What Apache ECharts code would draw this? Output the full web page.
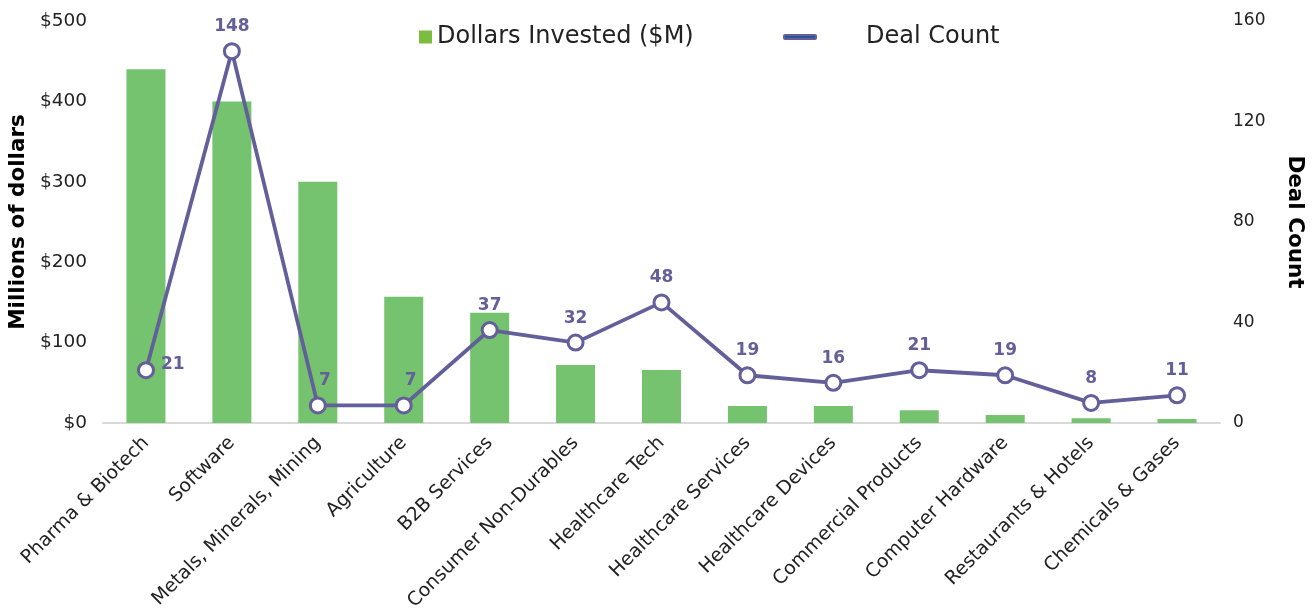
<!DOCTYPE html>
<html><head><meta charset="utf-8">
<script src="https://cdn.jsdelivr.net/npm/echarts@6/dist/echarts.min.js"></script>
<style>html,body{margin:0;padding:0;background:#fff}#c{width:1315px;height:611px}</style>
</head><body><div id="c"></div>
<script>
const categories = ['Pharma & Biotech','Software','Metals, Minerals, Mining','Agriculture','B2B Services','Consumer Non-Durables','Healthcare Tech','Healthcare Services','Healthcare Devices','Commercial Products','Computer Hardware','Restaurants & Hotels','Chemicals & Gases'];
const dollarsInvested = [440, 400, 300, 157, 137, 72, 66, 21, 21, 16, 10, 6, 5];
const dealCount = [21, 148, 7, 7, 37, 32, 48, 19, 16, 21, 19, 8, 11];
const leftTicks = [0, 100, 200, 300, 400, 500];
const rightTicks = [0, 40, 80, 120, 160];

const FONT = 'DejaVu Sans';
const LINE = '#635f9a';
const chart = echarts.init(document.getElementById('c'));
chart.setOption({
  backgroundColor: '#fff',
  textStyle: { fontFamily: FONT },
  animation: false,
  grid: { left: 103, right: 95, top: 21, bottom: 188, outerBoundsMode: 'none', containLabel: false },
  legend: [
    { data: [{ name: 'Dollars Invested ($M)', icon: 'rect', itemStyle: { color: '#7cbd41' } }],
      left: 414, top: 20, itemWidth: 13, itemHeight: 13, itemGap: 6,
      textStyle: { fontFamily: FONT, fontSize: 24, color: '#222', padding: [0, 0, 0, 0] } },
    { data: [{ name: 'Deal Count', icon: 'roundRect', itemStyle: { color: '#2d5296' }, lineStyle: { color: '#2d5296' } }],
      left: 778, top: 20, itemWidth: 32, itemHeight: 4,
      textStyle: { fontFamily: FONT, fontSize: 24, color: '#222', padding: [0, 0, 0, 45] } }
  ],
  xAxis: {
    type: 'category', data: categories,
    axisLine: { lineStyle: { color: '#d9d9d9', width: 2 } },
    axisTick: { show: false },
    axisLabel: { rotate: 45, fontSize: 19, color: '#222', fontFamily: FONT, interval: 0, margin: 17 }
  },
  yAxis: [
    { type: 'value', min: 0, max: 500, interval: 100,
      name: 'Millions of dollars', nameLocation: 'middle', nameGap: 73,
      nameTextStyle: { fontSize: 21.5, fontWeight: 'bold', color: '#000', fontFamily: FONT },
      splitLine: { show: false }, axisLine: { show: false }, axisTick: { show: false },
      axisLabel: { fontSize: 18.5, color: '#222', margin: 16, fontFamily: FONT,
        formatter: v => leftTicks.includes(v) ? '$' + v : '' } },
    { type: 'value', min: 0, max: 160, interval: 40, position: 'right',
      name: 'Deal Count', nameLocation: 'middle', nameGap: 64, nameRotate: -90,
      nameTextStyle: { fontSize: 21.5, fontWeight: 'bold', color: '#000', fontFamily: FONT },
      splitLine: { show: false }, axisLine: { show: false }, axisTick: { show: false },
      axisLabel: { fontSize: 17, color: '#222', margin: 13, fontFamily: FONT,
        formatter: v => rightTicks.includes(v) ? String(v) : '' } }
  ],
  series: [
    { name: 'Dollars Invested ($M)', type: 'bar', data: dollarsInvested, barWidth: 39,
      itemStyle: { color: '#75c26f' } },
    { name: 'Deal Count', type: 'line', yAxisIndex: 1,
      data: dealCount.map((v, i) => i === 0 ? { value: v, label: { position: 'right', distance: 6, offset: [0, -6] } }
        : (v === 7 ? { value: v, label: { offset: [7, 0] } } : v)),
      symbol: 'circle', symbolSize: 15,
      lineStyle: { color: LINE, width: 3.8 },
      itemStyle: { color: '#fff', borderColor: LINE, borderWidth: 3 },
      label: { show: true, position: 'top', distance: 7, fontSize: 17, fontWeight: 'bold', color: LINE, fontFamily: FONT },
      z: 5 }
  ]
});
</script></body></html>
